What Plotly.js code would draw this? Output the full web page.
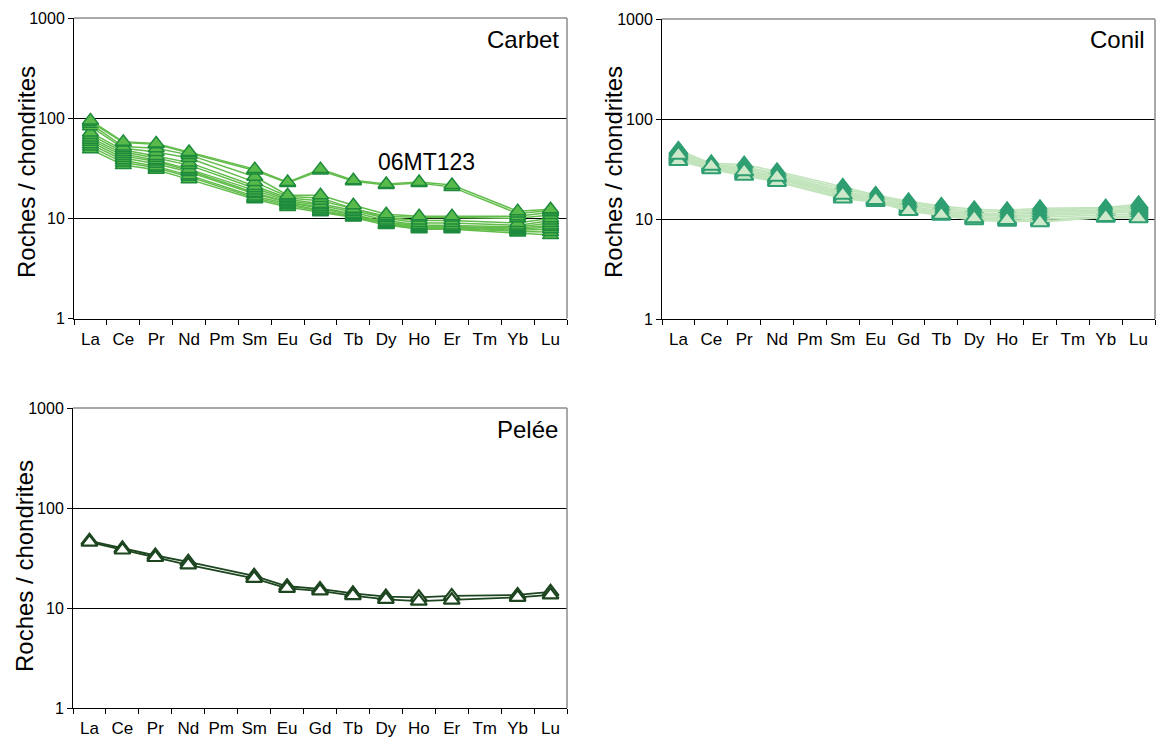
<!DOCTYPE html>
<html>
<head>
<meta charset="utf-8">
<script src="https://cdn.plot.ly/plotly-3.0.1.min.js"></script>
<style>html,body{margin:0;padding:0;background:#fff}#chart{width:1157px;height:740px}</style>
</head>
<body>
<div id="chart"></div>
<script>
const elements = ['La','Ce','Pr','Nd','Pm','Sm','Eu','Gd','Tb','Dy','Ho','Er','Tm','Yb','Lu'];
const yTickVals = [1, 10, 100, 1000];
const yTickText = ['1', '10', '100', '1000'];
const panelNames = ['Carbet', 'Conil', 'Pelée'];
const sampleLabel = '06MT123';
const yTitle = 'Roches / chondrites';

// values: La, Ce, Pr, Nd, Pm, Sm, Eu, Gd, Tb, Dy, Ho, Er, Tm, Yb, Lu
const carbet06MT123a = [95, 58, 56, 46, null, 31, 23, 31, 24, 22, 23, 21.5, null, 11.8, 12.3];
const carbet06MT123b = [92, 57, 55, 45, null, 30, 22.5, 30, 23.5, 21.5, 22.5, 20.5, null, 11.2, 12];
const carbet3  = [88, 52, 50, 43, null, 26, 17, 17, 13.5, 11, 10.5, 10.5, null, 10.5, 11.5];
const carbet4  = [83, 50, 46, 40, null, 23, 16.5, 16, 12.5, 10.5, 10.2, 10.2, null, 10, 10.8];
const carbet5  = [72, 48, 42, 36, null, 21, 16, 15, 12.5, 10.2, 9.5, 9.5, null, 9, 10];
const carbet6  = [68, 46, 40, 34, null, 20, 15.5, 14, 12, 10, 9, 9, null, 8.5, 9.5];
const carbet7  = [64, 44, 38, 31, null, 19, 15, 13.5, 11.5, 9.5, 8.6, 8.5, null, 8.2, 9];
const carbet8  = [61, 42, 37, 30, null, 18, 14.5, 13, 11, 9.2, 8.4, 8.3, null, 8, 8.5];
const carbet9  = [58, 40, 35, 29, null, 17.5, 14.5, 12.5, 10.8, 9, 8.2, 8.2, null, 7.8, 8.2];
const carbet10 = [55, 38, 33, 27, null, 16.5, 14, 12, 10.5, 8.8, 8, 8, null, 7.6, 7.8];
const carbet11 = [52, 36, 32, 26, null, 16, 13.5, 11.8, 10.3, 8.7, 7.9, 7.9, null, 7.4, 7.3];
const carbet12 = [49, 34, 30.5, 24.5, null, 15.5, 13, 11.5, 10.2, 8.6, 7.8, 7.8, null, 7.2, 6.8];

const conil1  = [49, 36, 35, 30, null, 21, 17.4, 15, 13.5, 12.5, 12.2, 12.8, null, 13, 14];
const conil2  = [47, 35, 33, 29, null, 20, 17, 14.5, 13, 12, 11.8, 12.4, null, 12.7, 13.5];
const conil3  = [45, 34.5, 32, 28, null, 19, 16.5, 14, 12.5, 11.5, 11.3, 12, null, 12.3, 13];
const conil4  = [43, 34, 31, 27, null, 18.5, 16, 13.5, 12, 11.2, 11, 11.6, null, 12, 12.5];
const conil5  = [42, 33.5, 30, 26, null, 18, 15.8, 13, 11.8, 11, 10.6, 11.2, null, 11.7, 12.2];
const conil6  = [41, 33, 29, 25.5, null, 17.5, 15.5, 12.8, 11.5, 10.6, 10.3, 10.8, null, 11.4, 11.8];
const conil7  = [40, 32.5, 28.5, 25, null, 17, 15.3, 12.5, 11.3, 10.3, 10, 10.4, null, 11, 11.3];
const conil8  = [39, 32, 28, 24, null, 16.5, 15, 12.2, 11, 10, 9.7, 10, null, 10.6, 10.8];
const conil9  = [38, 31.5, 27, 23.5, null, 16, 14.8, 12, 10.8, 9.7, 9.4, 9.6, null, 10.3, 10.3];
const conil10 = [44, 34, 30, 26.5, null, 17.5, 15.5, 12, 11, 10.2, 9.8, 9.3, null, 10.5, 10.2];

const pelee1 = [47, 39.5, 33.5, 29, null, 21, 16.5, 15.5, 14, 13, 12.8, 13.2, null, 13.5, 14.5];
const pelee2 = [45.5, 38, 32, 27, null, 19.8, 15.7, 14.8, 13.3, 12.2, 11.7, 12, null, 12.8, 13.5];

const carbetSeries = [carbet12, carbet11, carbet10, carbet9, carbet8, carbet7, carbet6, carbet5, carbet4, carbet3, carbet06MT123b, carbet06MT123a];
const conilSeries = [conil1, conil2, conil3, conil4, conil5, conil6, conil7, conil8, conil9, conil10];
const peleeSeries = [pelee1, pelee2];

const W = 1157, H = 740;
const fx = p => p / W;
const fy = p => 1 - p / H;
const FONT = 'Liberation Sans, Arial, sans-serif';

const traces = [];
function addSeries(list, xa, ya, style) {
  list.forEach(vals => {
    traces.push({
      type: 'scatter', mode: 'lines+markers',
      x: elements, y: vals, xaxis: xa, yaxis: ya,
      connectgaps: true, showlegend: false, hoverinfo: 'skip',
      line: {color: style.line, width: style.lw},
      marker: {symbol: 'triangle-up', size: style.ms, color: style.fill,
               line: {color: style.edge, width: style.ew}}
    });
  });
}
addSeries(conilSeries, 'x2', 'y2', {line: '#c2e4bc', lw: 1.6, ms: 16, fill: '#cde9ca', edge: '#2f9f72', ew: 2});
addSeries(carbetSeries, 'x', 'y', {line: '#63bd4c', lw: 1.5, ms: 14, fill: '#58ba4a', edge: '#1d8a3c', ew: 1.5});
addSeries(peleeSeries, 'x3', 'y3', {line: '#1d4620', lw: 1.8, ms: 14, fill: '#ffffff', edge: '#1d4620', ew: 2.2});

function xAxis(domain, anchor) {
  return {
    domain: domain, anchor: anchor, type: 'category',
    categoryorder: 'array', categoryarray: elements, range: [-0.5, 14.5],
    tickson: 'boundaries', ticks: 'outside', ticklen: 5, tickcolor: '#000', tickwidth: 1,
    showline: true, linecolor: '#000', linewidth: 1, showgrid: false, zeroline: false,
    tickangle: 0, ticklabelstandoff: 5,
    tickfont: {family: FONT, size: 17, color: '#000'}, fixedrange: true
  };
}
function yAxis(domain, anchor) {
  return {
    domain: domain, anchor: anchor, type: 'log', range: [0, 3],
    tickvals: yTickVals, ticktext: yTickText,
    ticks: 'outside', ticklen: 5, tickcolor: '#000', tickwidth: 1,
    showline: true, linecolor: '#000', linewidth: 1,
    showgrid: true, gridcolor: '#000', gridwidth: 1, zeroline: false,
    tickfont: {family: FONT, size: 16, color: '#000'},
    fixedrange: true
  };
}

const shapes = [];
[['x', 'y'], ['x2', 'y2'], ['x3', 'y3']].forEach(([xa, ya]) => {
  shapes.push({type: 'line', xref: xa + ' domain', yref: ya + ' domain', x0: 0, x1: 1, y0: 1, y1: 1, line: {color: '#8c8c8c', width: 1.5}});
  shapes.push({type: 'line', xref: xa + ' domain', yref: ya + ' domain', x0: 1, x1: 1, y0: 0, y1: 1, line: {color: '#8c8c8c', width: 1.5}});
});

const titleFont = {family: FONT, size: 24, color: '#000'};
const annotations = [
  {text: panelNames[0], xref: 'paper', yref: 'paper', x: fx(561), y: fy(39), xanchor: 'right', yanchor: 'middle', showarrow: false, font: titleFont},
  {text: panelNames[1], xref: 'paper', yref: 'paper', x: fx(1147), y: fy(39), xanchor: 'right', yanchor: 'middle', showarrow: false, font: titleFont},
  {text: panelNames[2], xref: 'paper', yref: 'paper', x: fx(560), y: fy(430), xanchor: 'right', yanchor: 'middle', showarrow: false, font: titleFont},
  {text: sampleLabel, xref: 'paper', yref: 'paper', x: fx(376), y: fy(162), xanchor: 'left', yanchor: 'middle', showarrow: false, font: {family: FONT, size: 23, color: '#000'}},
  {text: yTitle, xref: 'paper', yref: 'paper', x: fx(26), y: fy(172), xanchor: 'center', yanchor: 'middle', textangle: -90, showarrow: false, font: titleFont},
  {text: yTitle, xref: 'paper', yref: 'paper', x: fx(613), y: fy(172), xanchor: 'center', yanchor: 'middle', textangle: -90, showarrow: false, font: titleFont},
  {text: yTitle, xref: 'paper', yref: 'paper', x: fx(24), y: fy(566), xanchor: 'center', yanchor: 'middle', textangle: -90, showarrow: false, font: titleFont}
];

const layout = {
  width: W, height: H,
  margin: {l: 0, r: 0, t: 0, b: 0},
  paper_bgcolor: '#fff', plot_bgcolor: '#fff',
  showlegend: false,
  xaxis: xAxis([fx(74), fx(567)], 'y'),
  yaxis: yAxis([fy(318.5), fy(18)], 'x'),
  xaxis2: xAxis([fx(662), fx(1155)], 'y2'),
  yaxis2: yAxis([fy(319), fy(19)], 'x2'),
  xaxis3: xAxis([fx(73), fx(567)], 'y3'),
  yaxis3: yAxis([fy(708), fy(408)], 'x3'),
  shapes: shapes,
  annotations: annotations
};

Plotly.newPlot('chart', traces, layout, {displayModeBar: false, staticPlot: true});
</script>
</body>
</html>
